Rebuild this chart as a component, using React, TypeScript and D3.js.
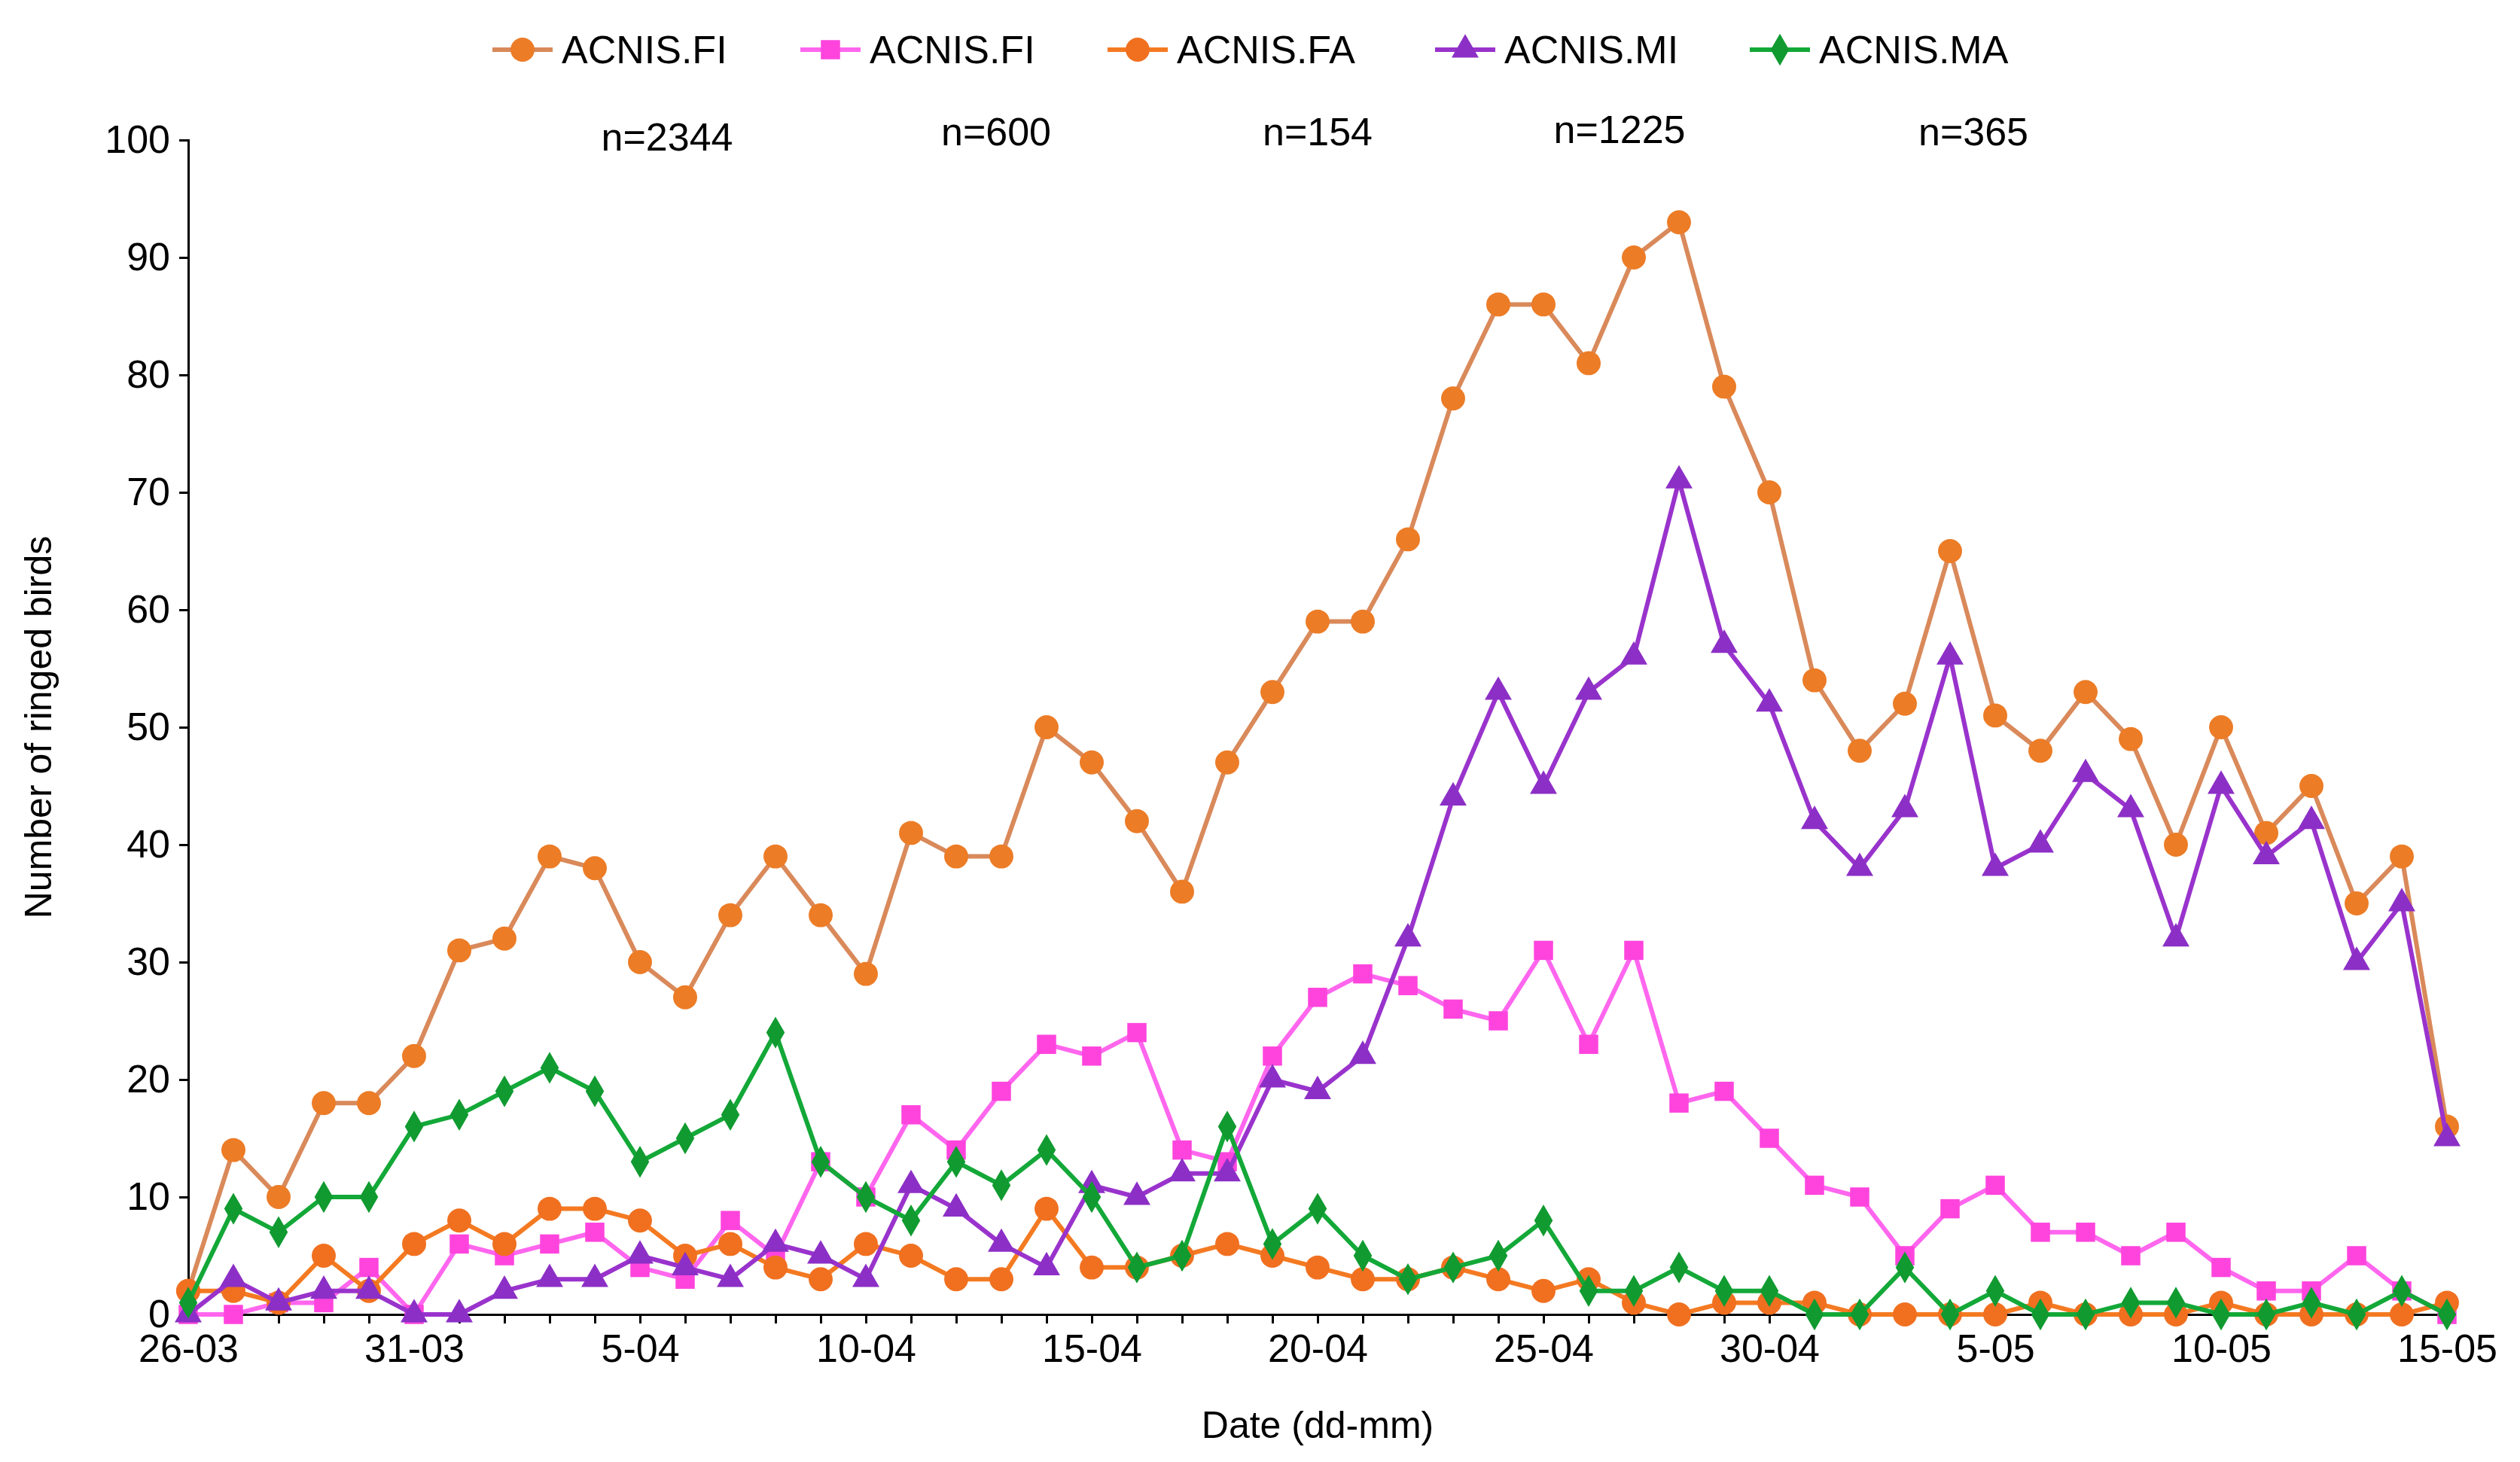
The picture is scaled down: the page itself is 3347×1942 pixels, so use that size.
import { useEffect, useRef } from "react";
import * as d3 from "d3";

const days = d3.range(51);
const tickLabels = ["26-03", "31-03", "5-04", "10-04", "15-04", "20-04", "25-04", "30-04", "5-05", "10-05", "15-05"];

const fiTotal = [2,14,10,18,18,22,31,32,39,38,30,27,34,39,34,29,41,39,39,50,47,42,36,47,53,59,59,66,78,86,86,81,90,93,79,70,54,48,52,65,51,48,53,49,40,50,41,45,35,39,16];
const fi = [0,0,1,1,4,0,6,5,6,7,4,3,8,5,13,10,17,14,19,23,22,24,14,13,22,27,29,28,26,25,31,23,31,18,19,15,11,10,5,9,11,7,7,5,7,4,2,2,5,2,0];
const fa = [2,2,1,5,2,6,8,6,9,9,8,5,6,4,3,6,5,3,3,9,4,4,5,6,5,4,3,3,4,3,2,3,1,0,1,1,1,0,0,0,0,1,0,0,0,1,0,0,0,0,1];
const mi = [0,3,1,2,2,0,0,2,3,3,5,4,3,6,5,3,11,9,6,4,11,10,12,12,20,19,22,32,44,53,45,53,56,71,57,52,42,38,43,56,38,40,46,43,32,45,39,42,30,35,15];
const ma = [1,9,7,10,10,16,17,19,21,19,13,15,17,24,13,10,8,13,11,14,10,4,5,16,6,9,5,3,4,5,8,2,2,4,2,2,0,0,4,0,2,0,0,1,1,0,0,1,0,2,0];

const seriesNames = ["ACNIS.FI", "ACNIS.FI", "ACNIS.FA", "ACNIS.MI", "ACNIS.MA"];
const seriesData = [fiTotal, fi, fa, mi, ma];
const lineColors = ["#d9895a", "#ff66ee", "#f47a22", "#9933cc", "#13a838"];
const markColors = ["#ec7c26", "#ff44dd", "#f07020", "#8c2fc6", "#109a30"];
const symbols = [d3.symbolCircle, d3.symbolSquare, d3.symbolCircle, d3.symbolTriangle, d3.symbolDiamond];
const symSizes = [800, 650, 800, 560, 520];
const nLabels = ["n=2344", "n=600", "n=154", "n=1225", "n=365"];
const nPos = [886, 1323, 1750, 2151, 2621];
const nY = [200, 193, 193, 190, 193];

export default function App() {
  const ref = useRef<SVGSVGElement>(null);
  useEffect(() => {
    const svg = d3.select(ref.current!);
    svg.selectAll("*").remove();
    const W = 3347, H = 1942;
    const left = 250, right = 3250, top = 186, bottom = 1746;
    const x = d3.scaleLinear().domain([0, 50]).range([left, right]);
    const y = d3.scaleLinear().domain([0, 100]).range([bottom, top]);
    svg.attr("width", W).attr("height", H).style("font-family", "Arial, 'Liberation Sans', sans-serif");
    svg.append("rect").attr("width", W).attr("height", H).attr("fill", "white");

    const yAx = svg.append("g").attr("transform", `translate(${left},0)`)
      .call(d3.axisLeft(y).tickValues(d3.range(0, 101, 10)).tickSize(12).tickPadding(12));
    yAx.selectAll("text").style("font-size", "52px").attr("fill", "#000");
    yAx.selectAll("line,path").attr("stroke", "#000").attr("stroke-width", 3);

    const xAx = svg.append("g").attr("transform", `translate(0,${bottom})`)
      .call(d3.axisBottom(x).tickValues(days).tickSize(12).tickPadding(14)
        .tickFormat((d) => ((d as number) % 5 === 0 ? tickLabels[(d as number) / 5] : "")));
    xAx.selectAll("text").style("font-size", "52px").attr("fill", "#000");
    xAx.selectAll("line,path").attr("stroke", "#000").attr("stroke-width", 3);

    svg.append("text").attr("x", (left + right) / 2).attr("y", 1910).attr("text-anchor", "middle")
      .style("font-size", "50px").text("Date (dd-mm)");
    svg.append("text").attr("transform", `translate(68,${(top + bottom) / 2}) rotate(-90)`)
      .attr("text-anchor", "middle").style("font-size", "50px").text("Number of ringed birds");

    seriesData.forEach((vals, i) => {
      const line = d3.line<number>().x((_, j) => x(j)).y((v) => y(v));
      svg.append("path").datum(vals).attr("fill", "none").attr("stroke", lineColors[i])
        .attr("stroke-width", 6).attr("d", line);
      const sym = d3.symbol().type(symbols[i]).size(symSizes[i]);
      svg.append("g").selectAll("path").data(vals).enter().append("path")
        .attr("transform", (v, j) => `translate(${x(j)},${y(v)})`)
        .attr("d", sym()!).attr("fill", markColors[i]);
    });

    nLabels.forEach((t, i) => {
      svg.append("text").attr("x", nPos[i]).attr("y", nY[i]).attr("text-anchor", "middle")
        .style("font-size", "52px").text(t);
    });

    const legX = [694, 1103, 1511, 1946, 2364];
    seriesNames.forEach((name, i) => {
      const g = svg.append("g").attr("transform", `translate(${legX[i]},66)`);
      g.append("line").attr("x1", -40).attr("x2", 40).attr("stroke", lineColors[i]).attr("stroke-width", 6);
      g.append("path").attr("d", d3.symbol().type(symbols[i]).size(symSizes[i])()!).attr("fill", markColors[i]);
      g.append("text").attr("x", 52).attr("y", 18).style("font-size", "52px").text(name);
    });
  }, []);
  return <svg ref={ref} style={{ position: "absolute", left: 0, top: 0 }} />;
}
